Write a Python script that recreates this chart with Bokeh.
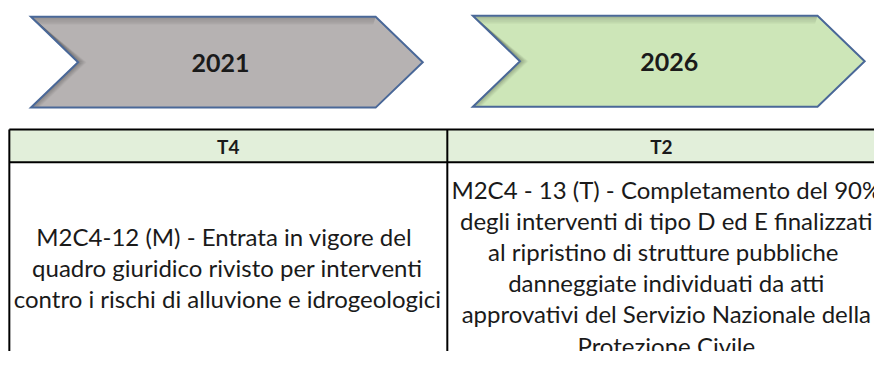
from bokeh.plotting import figure
from bokeh.models import Range1d
from bokeh.core.properties import value
from bokeh.embed import file_html
from bokeh.resources import INLINE

# ---- data ----
years = ["2021", "2026"]
quarters = ["T4", "T2"]
milestone_left = [
    "M2C4-12  (M) - Entrata in vigore del",
    "quadro giuridico rivisto per interventi",
    "contro i rischi di alluvione e idrogeologici",
]
milestone_right = [
    "M2C4 - 13 (T) - Completamento del 90%",
    "degli interventi di tipo D ed E finalizzati",
    "al ripristino di  strutture pubbliche",
    "danneggiate individuati da atti",
    "approvativi del Servizio Nazionale della",
    "Protezione Civile",
]
milestones = [milestone_left, milestone_right]
chevron_fills = ["#b6b2b2", "#cde6b8"]

# ---- layout (reference pixel coordinates, 890 x 367 canvas) ----
REF_W, REF_H = 890, 367
W, H = 874, 351
chev_x0 = [31, 481]
chev_top = [17, 16]
chev_body = 351
chev_tip = 48
chev_h = 95
year_label_x = [224, 681]

tbl_left = 9
tbl_div = 455
tbl_right = 920
hdr_top = 135
hdr_bot = 169
tbl_bottom = 420
col_hdr_x = [232, 673]
col_txt_x = [231, 678]
txt_center = 279
line_gap = 32.5

p = figure(width=W, height=H, x_range=Range1d(0, REF_W), y_range=Range1d(REF_H, 0),
           output_backend="svg", toolbar_location=None, min_border=0)
p.axis.visible = False
p.grid.visible = False
p.outline_line_color = None
p.background_fill_color = "white"
p.border_fill_color = "white"

# chevrons
xs, ys = [], []
shx, shy, sha = [], [], []
for i in range(len(years)):
    x0 = chev_x0[i]
    yt = chev_top[i]
    yb = yt + chev_h
    ym = (yt + yb) / 2
    xr = x0 + chev_body
    xt = xr + chev_tip
    xn = x0 + chev_tip
    xs.append([x0, xr, xt, xr, x0, xn])
    ys.append([yt, yt, ym, yb, yb, ym])
    for k in range(1, 9):
        a = 0.16 * (1 - k / 9)
        # top edge shading
        shx.append([x0 + k * 1.1, xr - k * 0.3])
        shy.append([yt + k, yt + k])
        sha.append(a)
        # notch edges shading
        shx.append([x0 + k * 1.1, xn + k, x0 + k * 1.1])
        shy.append([yt + k, ym, yb - 1])
        sha.append(a * 1.1)

p.patches(xs, ys, fill_color=chevron_fills, line_color=None)
p.multi_line(xs=shx, ys=shy, line_color="black", line_alpha=sha, line_width=1.3)
p.patches(xs, ys, fill_color=None, line_color="#4a6898", line_width=2, line_join="miter")

p.text(x=year_label_x, y=[(chev_top[i] + chev_h / 2 + 1) for i in range(len(years))], text=years,
       text_align="center", text_baseline="middle", text_font=value("Lato"),
       text_font_size="25px", text_font_style="bold", text_color="#1a1a1a")

# table header
p.quad(left=[tbl_left], right=[tbl_right], top=[hdr_top], bottom=[hdr_bot],
       fill_color="#e2efda", line_color=None)
p.segment(x0=[tbl_left, tbl_left, tbl_left, tbl_div],
          y0=[hdr_top, hdr_bot, hdr_top, hdr_top],
          x1=[tbl_right, tbl_right, tbl_left, tbl_div],
          y1=[hdr_top, hdr_bot, tbl_bottom, tbl_bottom],
          line_color="black", line_width=2)

p.text(x=col_hdr_x, y=[(hdr_top + hdr_bot) / 2 + 1] * 2, text=quarters,
       text_align="center", text_baseline="middle", text_font=value("Lato"),
       text_font_size="19px", text_font_style="bold", text_color="#1a1a1a")

tx, ty, tt = [], [], []
for i, lines in enumerate(milestones):
    n = len(lines)
    for j, s in enumerate(lines):
        tx.append(col_txt_x[i])
        ty.append(txt_center + (j - (n - 1) / 2) * line_gap)
        tt.append(s)
p.text(x=tx, y=ty, text=tt, text_align="center", text_baseline="alphabetic",
       text_font=value("Lato"), text_font_size="24px", text_color="#1a1a1a")

open("out.html", "w").write(file_html(p, INLINE))
